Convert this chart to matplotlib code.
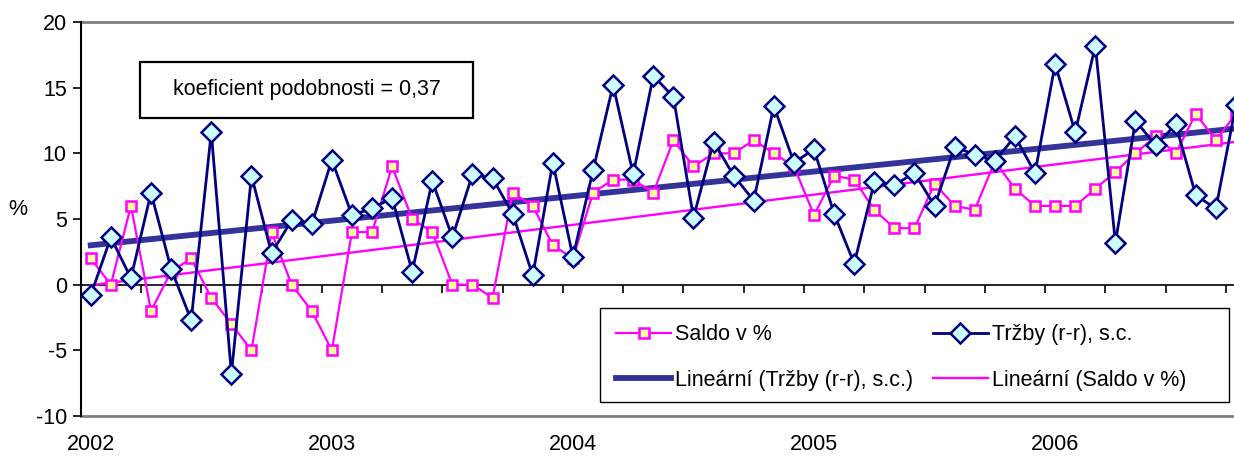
import numpy as np
import matplotlib
matplotlib.use("Agg")
import matplotlib.pyplot as plt
from matplotlib.patches import Rectangle
from matplotlib.transforms import blended_transform_factory

plt.rcParams['font.family'] = ['Liberation Sans', 'DejaVu Sans']
plt.rcParams['axes.unicode_minus'] = False

# monthly data, 2002-01 .. 2006-10
saldo = [2, 0, 6, -2, 1, 2, -1, -3, -5, 4, 0, -2,
         -5, 4, 4, 9, 5, 4, 0, 0, -1, 7, 6, 3,
         2, 7, 8, 8, 7, 11, 9, 10, 10, 11, 10, 9,
         5.3, 8.3, 8, 5.7, 4.3, 4.3, 7.7, 6, 5.7, 9.4, 7.3, 6,
         6, 6, 7.3, 8.6, 10, 11.3, 10, 13, 11, 13]
trzby = [-0.8, 3.6, 0.5, 7.0, 1.2, -2.7, 11.6, -6.8, 8.3, 2.4, 4.9, 4.6,
         9.5, 5.3, 5.8, 6.6, 1.0, 7.9, 3.6, 8.4, 8.1, 5.4, 0.7, 9.3,
         2.1, 8.7, 15.2, 8.4, 15.9, 14.3, 5.1, 10.9, 8.3, 6.4, 13.6, 9.3,
         10.3, 5.4, 1.6, 7.8, 7.6, 8.5, 6.0, 10.5, 9.9, 9.4, 11.3, 8.5,
         16.8, 11.6, 18.2, 3.2, 12.5, 10.6, 12.2, 6.8, 5.8, 13.7]
years = ["2002", "2003", "2004", "2005", "2006"]
yticks = [-10, -5, 0, 5, 10, 15, 20]

FS = 15.5
x = np.arange(len(saldo))

fig = plt.figure(figsize=(12.34, 4.57), dpi=100)
W = 1246 - 80.7
H = 416 - 22
ax = fig.add_axes([80.7/1234, 1-416/457, W/1234, H/457])

# trend lines
pt = np.polyfit(x, trzby, 1)
ps = np.polyfit(x, saldo, 1)
l_tt, = ax.plot(x, np.polyval(pt, x), color='#333399', lw=4.2, zorder=3)
l_ts, = ax.plot(x, np.polyval(ps, x), color='#FF00FF', lw=1.7, zorder=3)

l_s, = ax.plot(x, saldo, color='#FF00FF', lw=1.6, marker='s', ms=7,
               mfc='#FFFF99', mec='#FF00FF', mew=1.8, zorder=4)
l_t, = ax.plot(x, trzby, color='#000080', lw=2.0, marker='D', ms=10,
               mfc='#CCFFFF', mec='#000080', mew=1.8, zorder=5)

ax.set_xlim(-0.5, 57.5)
ax.set_ylim(-10, 20)
ax.set_yticks(yticks)
ax.tick_params(axis='y', direction='out', length=6, width=1.2, labelsize=FS, pad=4)

for s in ['top', 'right']:
    ax.spines[s].set_visible(False)
ax.spines['left'].set_linewidth(1.5)
ax.spines['bottom'].set_position(('data', 0))
ax.spines['bottom'].set_linewidth(1.2)
ax.set_xticks(np.arange(-0.5, 58, 3))
ax.tick_params(axis='x', direction='out', length=6, width=1.2, labelbottom=False)

ax.axhline(20, color='#808080', lw=2, clip_on=False, zorder=1)
ax.axhline(-10, color='#808080', lw=2, clip_on=False, zorder=1)

trans = blended_transform_factory(ax.transData, ax.transAxes)
for k, yr in enumerate(years):
    ax.text(k*12, -29/H, yr, transform=trans, ha='center', va='center', fontsize=FS)

fig.text(18/1234, 1-210/457, "%", ha='center', va='center', fontsize=FS)

# coefficient box
bx0 = (140-80.7)/W
bw = (473-140)/W
by0 = (416-118)/H
bh = (118-62)/H
ax.add_patch(Rectangle((bx0, by0), bw, bh, transform=ax.transAxes,
                       facecolor='white', edgecolor='black', lw=1.6, zorder=6))
ax.text(bx0+bw/2, by0+bh/2, "koeficient podobnosti = 0,37", transform=ax.transAxes,
        ha='center', va='center', fontsize=FS, zorder=7)

# legend frame drawn separately
lx0 = (600-80.7)/W
lw_ = (1229-600)/W
ly0 = (416-402)/H
lh = (402-308)/H
ax.add_patch(Rectangle((lx0, ly0), lw_, lh, transform=ax.transAxes,
                       facecolor='white', edgecolor='black', lw=1.0, zorder=8))
leg = ax.legend([l_s, l_tt, l_t, l_ts],
                ["Saldo v %", "Lineární (Tržby (r-r), s.c.)",
                 "Tržby (r-r), s.c.", "Lineární (Saldo v %)"],
                ncol=2, loc='upper left', bbox_to_anchor=(lx0, ly0+lh),
                fontsize=FS, frameon=False, handlelength=2.55,
                handletextpad=0.2, labelspacing=1.15, borderpad=0.75,
                columnspacing=0.9, borderaxespad=0)
leg.set_zorder(9)

fig.savefig("out.png", dpi=100)
